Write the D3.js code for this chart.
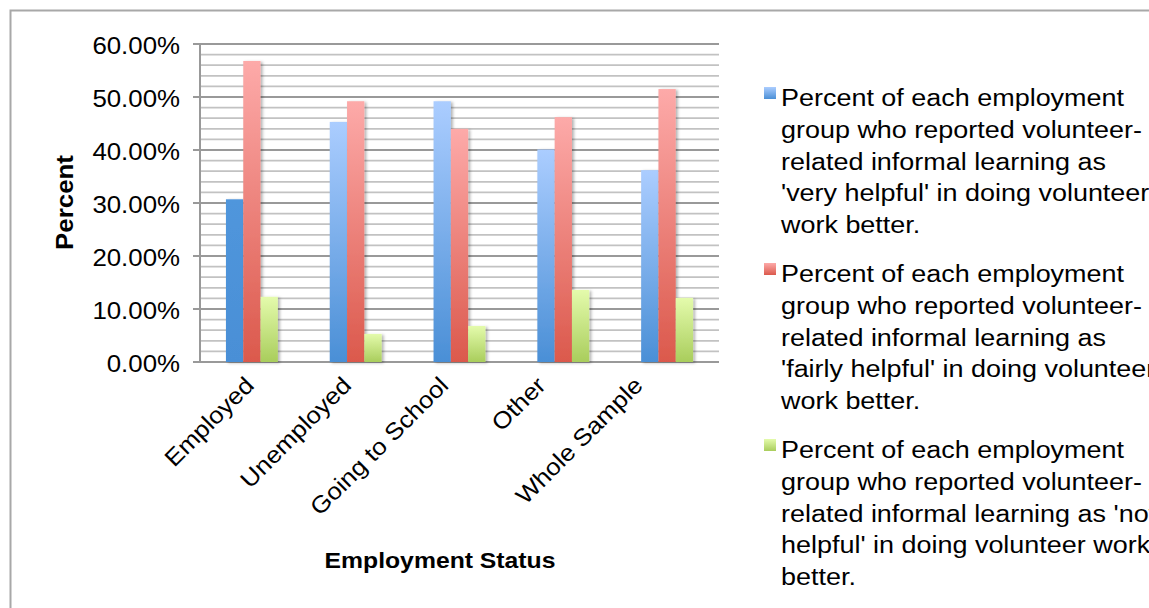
<!DOCTYPE html>
<html><head><meta charset="utf-8">
<script src="https://cdn.jsdelivr.net/npm/d3@7/dist/d3.min.js"></script>
<style>
html,body{margin:0;padding:0;background:#fff;overflow:hidden;}
text{font-family:"Liberation Sans",Arial,Helvetica,sans-serif;fill:#000;}
</style></head>
<body>
<svg id="chart" width="1149" height="608"></svg>
<script>
const categories = ["Employed","Unemployed","Going to School","Other","Whole Sample"];
const seriesNames = [
  "Percent of each employment group who reported volunteer-related informal learning as 'very helpful' in doing volunteer work better.",
  "Percent of each employment group who reported volunteer-related informal learning as 'fairly helpful' in doing volunteer work better.",
  "Percent of each employment group who reported volunteer-related informal learning as 'not helpful' in doing volunteer work better."
];
const legendLines = [
  ["Percent of each employment","group who reported volunteer-","related informal learning as","'very helpful' in doing volunteer","work better."],
  ["Percent of each employment","group who reported volunteer-","related informal learning as","'fairly helpful' in doing volunteer","work better."],
  ["Percent of each employment","group who reported volunteer-","related informal learning as 'not","helpful' in doing volunteer work","better."]
];
const veryHelpful   = [30.7, 45.3, 49.2, 40.1, 36.2];
const fairlyHelpful = [56.8, 49.2, 44.0, 46.2, 51.5];
const notHelpful    = [12.3, 5.3, 6.8, 13.6, 12.1];
const yTicks = [0,10,20,30,40,50,60];
const yMinor = d3.range(0, 60.001, 2);
const xTitle = "Employment Status";
const yTitle = "Percent";

const series = [veryHelpful, fairlyHelpful, notHelpful];
const S = 1.1; // glyph widening

const svg = d3.select("#chart");
const defs = svg.append("defs");
const grads = [
  {id:"gBlue", top:"#abcdff", bot:"#4a8fd6"},
  {id:"gRed", top:"#fdaaa9", bot:"#db594c"},
  {id:"gGreen", top:"#e4fbac", bot:"#a9cd5c"},
  {id:"gBlueDark", top:"#5096dc", bot:"#4a8fd6"}
];
grads.forEach(g=>{
  const lg = defs.append("linearGradient").attr("id",g.id).attr("x1",0).attr("y1",0).attr("x2",0).attr("y2",1);
  lg.append("stop").attr("offset","0%").attr("stop-color",g.top);
  lg.append("stop").attr("offset","100%").attr("stop-color",g.bot);
});
const f = defs.append("filter").attr("id","shadow").attr("x","-30%").attr("y","-10%").attr("width","160%").attr("height","130%");
f.append("feDropShadow").attr("dx",2).attr("dy",1).attr("stdDeviation",1.6).attr("flood-color","#000").attr("flood-opacity",0.3);

// outer border
svg.append("rect").attr("x",10.5).attr("y",10.5).attr("width",1160).attr("height",620)
  .attr("fill","none").attr("stroke","#a8a8a8").attr("stroke-width",2);

const L = 200, R = 719, T = 44, B = 362;
const y = d3.scaleLinear().domain([0,60]).range([B,T]);
const x0 = d3.scaleBand().domain(categories).range([L,R]).paddingInner(0.5).paddingOuter(0.25);
const x1 = d3.scaleBand().domain(d3.range(series.length)).range([0,x0.bandwidth()]);
const xLab = d3.scaleBand().domain(categories).range([L, 686]);

// gridlines
svg.append("g").selectAll("line").data(yMinor.filter(v=>v%10!==0)).join("line")
  .attr("x1",L).attr("x2",R).attr("y1",d=>y(d)).attr("y2",d=>y(d))
  .attr("stroke","#c2c2c2").attr("stroke-width",1.8);
svg.append("g").selectAll("line").data(yTicks).join("line")
  .attr("x1",L-7).attr("x2",R).attr("y1",d=>y(d)).attr("y2",d=>y(d))
  .attr("stroke","#999").attr("stroke-width",1.8);
svg.append("line").attr("x1",L).attr("x2",L).attr("y1",T).attr("y2",B+1)
  .attr("stroke","#999").attr("stroke-width",2);

// y tick labels
svg.append("g").selectAll("text").data(yTicks).join("text")
  .attr("transform",d=>`translate(180,${y(d)+10}) scale(${S},1)`)
  .attr("text-anchor","end").attr("font-size",23.5)
  .text(d=>d3.format(".2f")(d)+"%");

// bars
const grp = svg.append("g").selectAll("g").data(categories).join("g")
  .attr("transform",c=>`translate(${x0(c)},0)`);
grp.selectAll("rect").data((c,i)=>series.map((s,j)=>({j, i, v:s[i]}))).join("rect")
  .attr("x",d=>x1(d.j)).attr("width",x1.bandwidth())
  .attr("y",d=>y(d.v)).attr("height",d=>B-y(d.v))
  .attr("fill",d=>{
    if (d.j===0 && d.i===0) return "url(#gBlueDark)";
    return ["url(#gBlue)","url(#gRed)","url(#gGreen)"][d.j];
  })
  .attr("filter","url(#shadow)");

// x labels
svg.append("g").selectAll("text").data(categories).join("text")
  .attr("transform",c=>`translate(${xLab(c)+xLab.bandwidth()/2+1},381) rotate(-45) scale(${S},1)`)
  .attr("text-anchor","end").attr("dy","0.35em").attr("font-size",23.5)
  .text(c=>c);

// axis titles
svg.append("text").attr("transform",`translate(440,568) scale(${S},1)`)
  .attr("text-anchor","middle").attr("font-size",22.5).attr("font-weight","bold").text(xTitle);
svg.append("text").attr("transform",`translate(73,202.5) rotate(-90) scale(${S},1)`)
  .attr("text-anchor","middle").attr("font-size",23.5).attr("font-weight","bold").text(yTitle);

// legend
const lg = svg.append("g").selectAll("g").data(seriesNames).join("g")
  .attr("transform",(d,i)=>`translate(764,${106 + i*176})`);
lg.append("rect").attr("x",0).attr("y",-19).attr("width",12).attr("height",12)
  .attr("fill",(d,i)=>["url(#gBlue)","url(#gRed)","url(#gGreen)"][i]);
lg.each(function(d,i){
  d3.select(this).selectAll("text").data(legendLines[i]).join("text")
    .attr("transform",(t,k)=>`translate(17,${k*31.75}) scale(${S},1)`)
    .attr("font-size",24.5).text(t=>t);
});
</script>
</body></html>
